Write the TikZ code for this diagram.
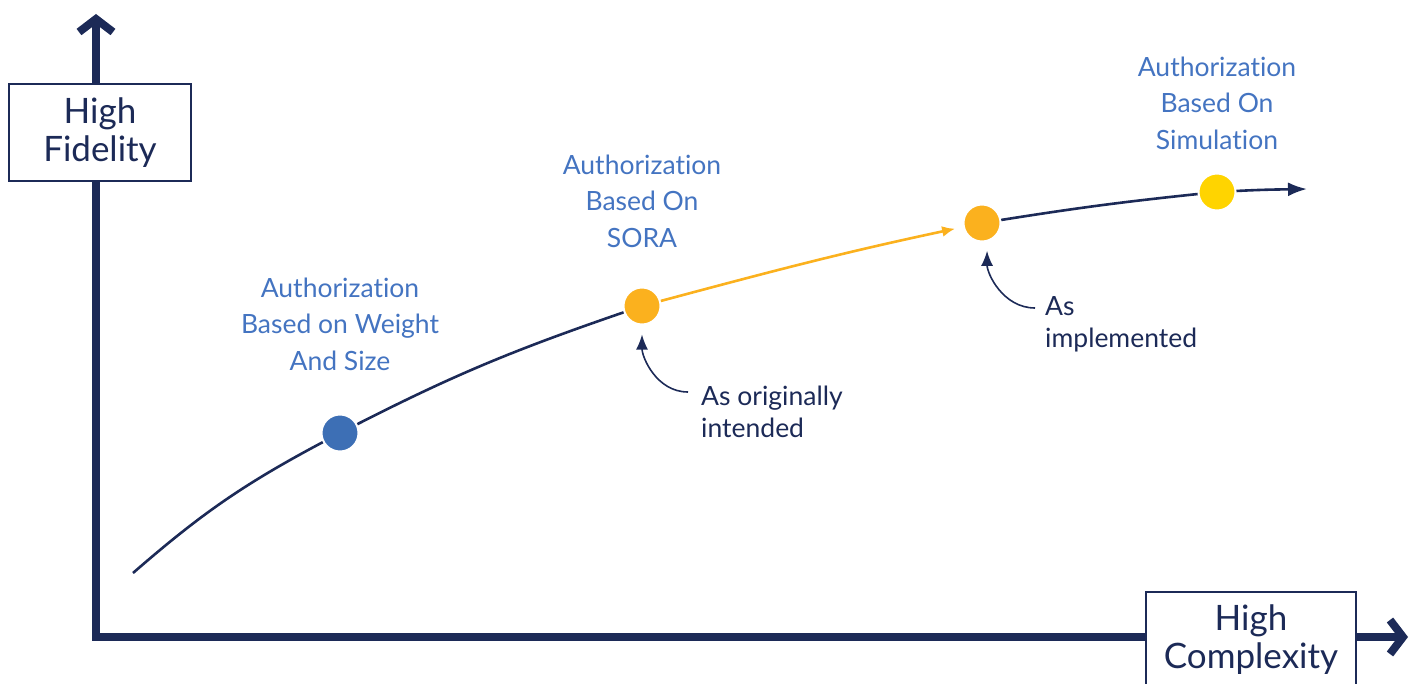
\documentclass[tikz,border=0pt]{standalone}
\usepackage{fontspec}
\setmainfont{Lato}[Ligatures={NoCommon,NoContextual}]
\usetikzlibrary{arrows.meta}
\definecolor{navy}{RGB}{28,42,87}
\definecolor{lblblue}{RGB}{68,116,193}
\definecolor{dotblue}{RGB}{61,111,181}
\definecolor{dotorange}{RGB}{251,177,30}
\definecolor{dotyellow}{RGB}{255,212,0}
\tikzset{
  axisline/.style={draw=navy, line width=8pt, line join=miter,
    {Straight Barb[length=13pt,width=34pt,line join=miter]}-{Straight Barb[length=13pt,width=34pt,line join=miter]}},
  axbox/.style={draw=navy, fill=white, line width=2.5pt, align=center, inner sep=0pt,
    text=navy, font=\fontsize{35}{38}\selectfont},
  dot/.style={circle, draw=white, line width=2pt, minimum size=37pt, inner sep=0pt, outer sep=1pt},
  curve/.style={draw=navy, line width=2.6pt},
  ocurve/.style={draw=dotorange, line width=2.6pt},
  ann/.style={draw=navy, line width=1.6pt, -{Latex[length=15pt,width=12pt]}, shorten >=9pt},
  lbl/.style={text=lblblue, align=center, font=\fontsize{26.5}{36.5}\selectfont},
  anntext/.style={text=navy, align=left, font=\fontsize{26.5}{32}\selectfont, inner sep=0pt},
}
\begin{document}
\begin{tikzpicture}[x=1pt,y=1pt]
\useasboundingbox (0,0) rectangle (1418,-684);
% axes
\coordinate (ytip) at (96,-14);
\coordinate (orig) at (96,-637);
\coordinate (xtip) at (1408,-637);
\draw[axisline] (ytip) -- (orig) -- (xtip);
\node[axbox, minimum width=182pt, minimum height=97pt] (hf) at (100,-132.5) {High\\Fidelity};
\node[axbox, minimum width=210pt, minimum height=96pt] (hc) at (1251,-640) {High\\Complexity};
% dots
\coordinate (cs) at (133,-573);
\node[dot, fill=dotblue] (B) at (340,-433) {};
\node[dot, fill=dotorange] (S) at (642,-306) {};
\node[dot, fill=dotorange] (O) at (982,-223) {};
\node[dot, fill=dotyellow] (Y) at (1217,-192) {};
\coordinate (ce) at (1307,-189);
% curve
\draw[curve] (cs) to[out=41,in=208] (B);
\draw[curve] (B) to[out=27,in=199] (S);
\draw[ocurve, -{Latex[length=13pt,width=11pt]}, shorten >=8pt] (S) to[out=15,in=192] (O);
\draw[curve] (O) to[out=9,in=186] (Y);
\draw[curve, -{Latex[length=19pt,width=14pt]}] (Y) to[out=3,in=181] (ce);
% labels
\node[lbl] (lB) at (340,-324) {Authorization\\Based on Weight\\And Size};
\node[lbl] (lS) at (642,-201) {Authorization\\Based On\\SORA};
\node[lbl] (lY) at (1217,-103) {Authorization\\Based On\\Simulation};
% annotations
\node[anntext, anchor=west] (t1) at (701,-412) {As originally\\intended};
\node[anntext, anchor=west] (t2) at (1045,-324) {As\\implemented};
\coordinate (a1) at (688,-392);
\coordinate (a2) at (1035,-308);
\draw[ann] (a1) to[out=180,in=-90] (S.south);
\draw[ann] (a2) to[out=180,in=-90] (O.-75);
\end{tikzpicture}
\end{document}
